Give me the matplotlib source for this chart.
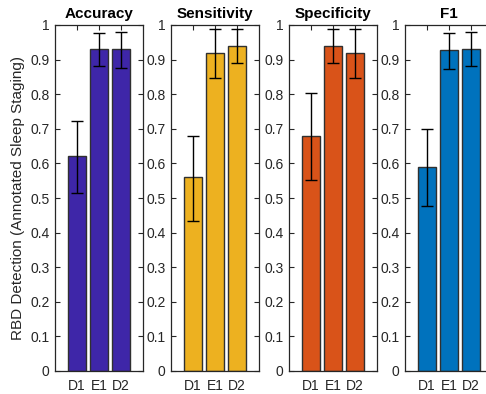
import matplotlib.pyplot as plt
import numpy as np

plt.rcParams['font.family'] = ['Liberation Sans', 'DejaVu Sans']

# metric panels
titles = ['Accuracy', 'Sensitivity', 'Specificity', 'F1']
groups = ['D1', 'E1', 'D2']
colors = ['#3E26A8', '#EDB120', '#D95319', '#0072BD']

# mean values per metric (D1, E1, D2)
accuracy = [0.62, 0.93, 0.93]
sensitivity = [0.56, 0.92, 0.94]
specificity = [0.68, 0.94, 0.92]
f1 = [0.59, 0.927, 0.932]

# error bar ends per metric (low, high)
accuracy_lo = [0.515, 0.881, 0.875]
accuracy_hi = [0.723, 0.976, 0.981]
sensitivity_lo = [0.434, 0.848, 0.890]
sensitivity_hi = [0.680, 0.987, 0.987]
specificity_lo = [0.552, 0.890, 0.848]
specificity_hi = [0.804, 0.987, 0.987]
f1_lo = [0.477, 0.872, 0.881]
f1_hi = [0.699, 0.976, 0.981]

means = [accuracy, sensitivity, specificity, f1]
lows = [accuracy_lo, sensitivity_lo, specificity_lo, f1_lo]
highs = [accuracy_hi, sensitivity_hi, specificity_hi, f1_hi]

W, H = 486, 394
fig = plt.figure(figsize=(W / 100, H / 100), dpi=100)
lefts = [55, 171, 289, 405]
grey = '#262626'

for i in range(4):
    ax = fig.add_axes([lefts[i] / W, 23 / H, 88 / W, 346 / H])
    x = np.arange(1, 4)
    m = np.array(means[i])
    lo = m - np.array(lows[i])
    hi = np.array(highs[i]) - m
    ax.bar(x, m, width=0.8, color=colors[i], edgecolor='#303030', linewidth=1.0, zorder=2)
    ax.errorbar(x, m, yerr=[lo, hi], fmt='none', ecolor='black', elinewidth=1.0,
                capsize=4.3, capthick=1.0, zorder=3)
    ax.set_xlim(0, 4)
    ax.set_ylim(0, 1)
    ax.set_xticks(x)
    ax.set_xticklabels(groups)
    ax.set_yticks(np.arange(0, 1.01, 0.1))
    ax.set_yticklabels(['0'] + ['%.1f' % v for v in np.arange(0.1, 0.95, 0.1)] + ['1'])
    ax.tick_params(direction='in', length=3.5, width=0.8, colors=grey, labelsize=10,
                   top=True, right=True)
    ax.tick_params(axis='x', pad=6)
    ax.tick_params(axis='y', pad=4)
    for s in ax.spines.values():
        s.set_color(grey)
        s.set_linewidth(0.9)
    ax.set_title(titles[i], fontsize=11, fontweight='bold', pad=5)
    if i == 0:
        ax.set_ylabel('RBD Detection (Annotated Sleep Staging)', fontsize=11,
                      color=grey, labelpad=4)

fig.savefig('out.png', dpi=100)
